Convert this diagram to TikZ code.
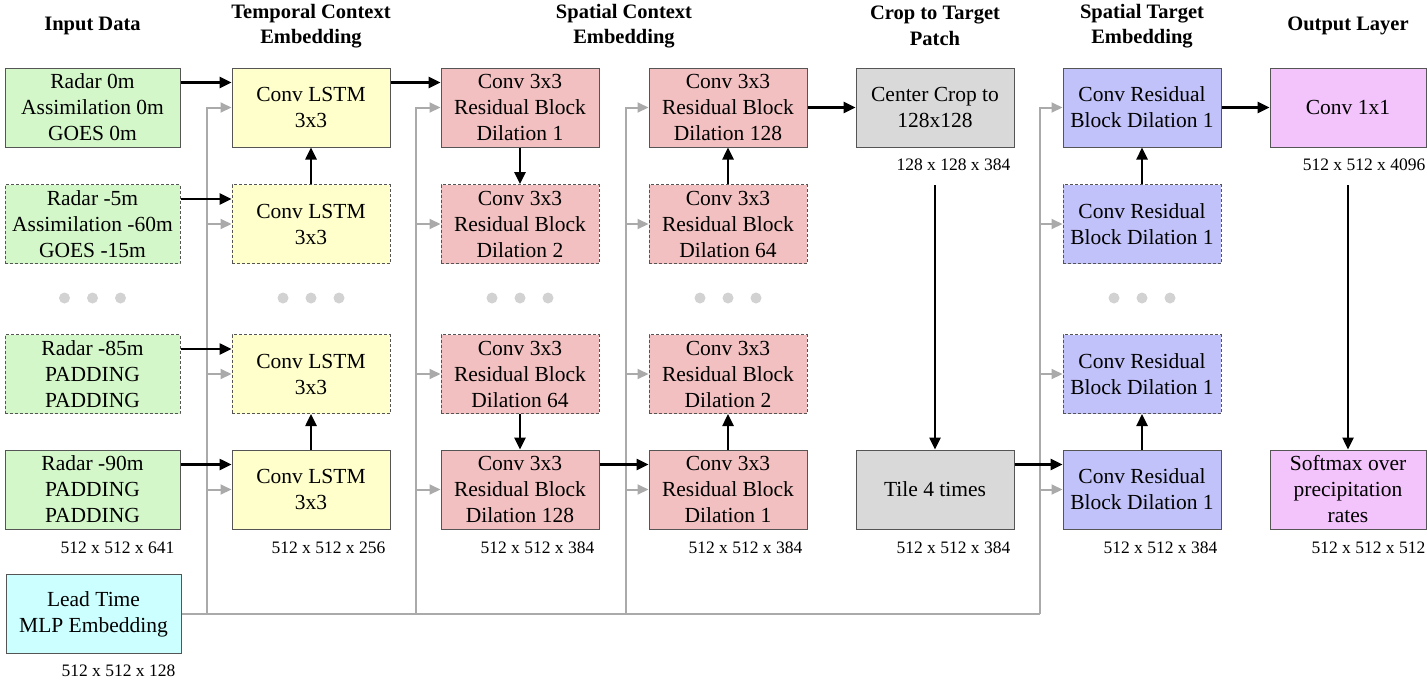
\documentclass[tikz,border=0pt]{standalone}
\usepackage{fontspec}
\setmainfont{Liberation Serif}
\usetikzlibrary{arrows.meta,calc}
\definecolor{cgreen}{HTML}{D3F7C9}
\definecolor{cyellow}{HTML}{FFFFCC}
\definecolor{cred}{HTML}{F2C0C0}
\definecolor{cblue}{HTML}{C2C2FA}
\definecolor{cpink}{HTML}{F3C3FB}
\definecolor{ccyan}{HTML}{CCFFFF}
\definecolor{cgrey}{HTML}{D9D9D9}
\definecolor{gline}{HTML}{AAAAAA}
\definecolor{bordc}{HTML}{555555}
\begin{document}
\begin{tikzpicture}[x=1pt,y=-1pt,
  box/.style={draw=bordc, line width=1pt, minimum width=158pt, minimum height=79pt, inner sep=0pt, align=center, font=\fontsize{21.5}{26}\selectfont},
  dbox/.style={box, dash pattern=on 3pt off 2pt},
  ttl/.style={font=\bfseries\fontsize{20.5}{25.5}\selectfont, align=center, inner sep=0pt},
  dim/.style={font=\fontsize{17.5}{20}\selectfont, anchor=north east, inner sep=0pt},
  blk/.style={-{Triangle[length=12pt,width=11pt]}, line width=2.5pt, black},
  garr/.style={-{Triangle[length=11pt,width=10pt]}, line width=2pt, draw=gline},
  gl/.style={line width=2pt, draw=gline},
  dotn/.style={circle, fill=gray!35, minimum size=11pt, inner sep=0pt}
]
\useasboundingbox (0,0) rectangle (1427,681);

% titles
\node[ttl] (h1) at (92.5,26) {Input Data};
\node[ttl] (h2) at (311,26) {Temporal Context\\Embedding};
\node[ttl] (h3) at (624,26) {Spatial Context\\Embedding};
\node[ttl] (h4) at (935,26) {Crop to Target\\Patch};
\node[ttl] (h5) at (1142,26) {Spatial Target\\Embedding};
\node[ttl] (h6) at (1348,26) {Output Layer};

% input column
\node[box, fill=cgreen, minimum width=175pt] (in1) at (92.5,107.5) {Radar 0m\\Assimilation 0m\\GOES 0m};
\node[dbox, fill=cgreen, minimum width=175pt] (in2) at (92.5,224) {Radar -5m\\Assimilation -60m\\GOES -15m};
\node[dbox, fill=cgreen, minimum width=175pt] (in3) at (92.5,374) {Radar -85m\\PADDING\\PADDING};
\node[box, fill=cgreen, minimum width=175pt] (in4) at (92.5,489.5) {Radar -90m\\PADDING\\PADDING};
\node[box, fill=ccyan, minimum width=175pt] (lead) at (93.5,614) {Lead Time\\MLP Embedding};

% LSTM column
\node[box, fill=cyellow] (l1) at (311,107.5) {Conv LSTM\\3x3};
\node[dbox, fill=cyellow] (l2) at (311,224) {Conv LSTM\\3x3};
\node[dbox, fill=cyellow] (l3) at (311,374) {Conv LSTM\\3x3};
\node[box, fill=cyellow] (l4) at (311,489.5) {Conv LSTM\\3x3};

% spatial context 1
\node[box, fill=cred] (a1) at (520,107.5) {Conv 3x3\\Residual Block\\Dilation 1};
\node[dbox, fill=cred] (a2) at (520,224) {Conv 3x3\\Residual Block\\Dilation 2};
\node[dbox, fill=cred] (a3) at (520,374) {Conv 3x3\\Residual Block\\Dilation 64};
\node[box, fill=cred] (a4) at (520,489.5) {Conv 3x3\\Residual Block\\Dilation 128};

% spatial context 2
\node[box, fill=cred] (b1) at (728,107.5) {Conv 3x3\\Residual Block\\Dilation 128};
\node[dbox, fill=cred] (b2) at (728,224) {Conv 3x3\\Residual Block\\Dilation 64};
\node[dbox, fill=cred] (b3) at (728,374) {Conv 3x3\\Residual Block\\Dilation 2};
\node[box, fill=cred] (b4) at (728,489.5) {Conv 3x3\\Residual Block\\Dilation 1};

% crop
\node[box, fill=cgrey] (c1) at (935,107.5) {Center Crop to\\128x128};
\node[box, fill=cgrey] (c4) at (935,489.5) {Tile 4 times};

% spatial target
\node[box, fill=cblue] (t1) at (1142,107.5) {Conv Residual\\Block Dilation 1};
\node[dbox, fill=cblue] (t2) at (1142,224) {Conv Residual\\Block Dilation 1};
\node[dbox, fill=cblue] (t3) at (1142,374) {Conv Residual\\Block Dilation 1};
\node[box, fill=cblue] (t4) at (1142,489.5) {Conv Residual\\Block Dilation 1};

% output
\node[box, fill=cpink, minimum width=156pt] (o1) at (1348,107.5) {Conv 1x1};
\node[box, fill=cpink, minimum width=156pt] (o4) at (1348,489.5) {Softmax over\\precipitation\\rates};

% dimension labels
\node[dim] (d1) at ([xshift=-6pt,yshift=-12pt]in4.south east) {512 x 512 x 641};
\node[dim] (d2) at ([xshift=-6pt,yshift=-11pt]lead.south east) {512 x 512 x 128};
\node[dim] (d3) at ([xshift=-5pt,yshift=-12pt]l4.south east) {512 x 512 x 256};
\node[dim] (d4) at ([xshift=-5pt,yshift=-12pt]a4.south east) {512 x 512 x 384};
\node[dim] (d5) at ([xshift=-5pt,yshift=-12pt]b4.south east) {512 x 512 x 384};
\node[dim] (d6) at ([xshift=-4pt,yshift=-11pt]c1.south east) {128 x 128 x 384};
\node[dim] (d7) at ([xshift=-4pt,yshift=-12pt]c4.south east) {512 x 512 x 384};
\node[dim] (d8) at ([xshift=-4pt,yshift=-12pt]t4.south east) {512 x 512 x 384};
\node[dim] (d9) at ([xshift=-1pt,yshift=-11pt]o1.south east) {512 x 512 x 4096};
\node[dim] (d10) at ([xshift=-1pt,yshift=-12pt]o4.south east) {512 x 512 x 512};

% dots
\foreach \cx/\nm in {92.5/p, 311/q, 520/r, 728/s, 1142/u} {
  \node[dotn] (\nm1) at (\cx-28,298) {};
  \node[dotn] (\nm2) at (\cx,298) {};
  \node[dotn] (\nm3) at (\cx+28,298) {};
}

% grey skip lines
\coordinate (g1) at (207,614);
\coordinate (g2) at (416,614);
\coordinate (g3) at (626,614);
\coordinate (g4) at (1040,614);
\draw[gl] (lead.east) -- (g4);
\draw[garr] (g1) -- (g1 |- l1.west) -- (l1.west);
\draw[garr] (g2) -- (g2 |- a1.west) -- (a1.west);
\draw[garr] (g3) -- (g3 |- b1.west) -- (b1.west);
\draw[garr] (g4) -- (g4 |- t1.west) -- (t1.west);
\foreach \n in {l2,l3,l4} \draw[garr] (g1 |- \n.west) -- (\n.west);
\foreach \n in {a2,a3,a4} \draw[garr] (g2 |- \n.west) -- (\n.west);
\foreach \n in {b2,b3,b4} \draw[garr] (g3 |- \n.west) -- (\n.west);
\foreach \n in {t2,t3,t4} \draw[garr] (g4 |- \n.west) -- (\n.west);

% black arrows
\draw[blk] ([yshift=25pt]in1.east) -- ([yshift=25pt]l1.west);
\draw[blk] ([yshift=25pt]in2.east) -- ([yshift=25pt]l2.west);
\draw[blk] ([yshift=25pt]in3.east) -- ([yshift=25pt]l3.west);
\draw[blk] ([yshift=25pt]in4.east) -- ([yshift=25pt]l4.west);
\draw[blk] ([yshift=25pt]l1.east) -- ([yshift=25pt]a1.west);
\draw[blk] ([yshift=25pt]a4.east) -- ([yshift=25pt]b4.west);
\draw[blk] (b1.east) -- (c1.west);
\draw[blk] ([yshift=25pt]c4.east) -- ([yshift=25pt]t4.west);
\draw[blk] (t1.east) -- (o1.west);
\draw[blk] (l2.north) -- (l1.south);
\draw[blk] (l4.north) -- (l3.south);
\draw[blk] (a1.south) -- (a2.north);
\draw[blk] (a3.south) -- (a4.north);
\draw[blk] (b2.north) -- (b1.south);
\draw[blk] (b4.north) -- (b3.south);
\draw[blk] (t2.north) -- (t1.south);
\draw[blk] (t4.north) -- (t3.south);
\coordinate (cs) at (935,185);
\coordinate (os) at (1348,185);
\draw[blk] (cs) -- (c4.north);
\draw[blk] (os) -- (o4.north);
\end{tikzpicture}
\end{document}
